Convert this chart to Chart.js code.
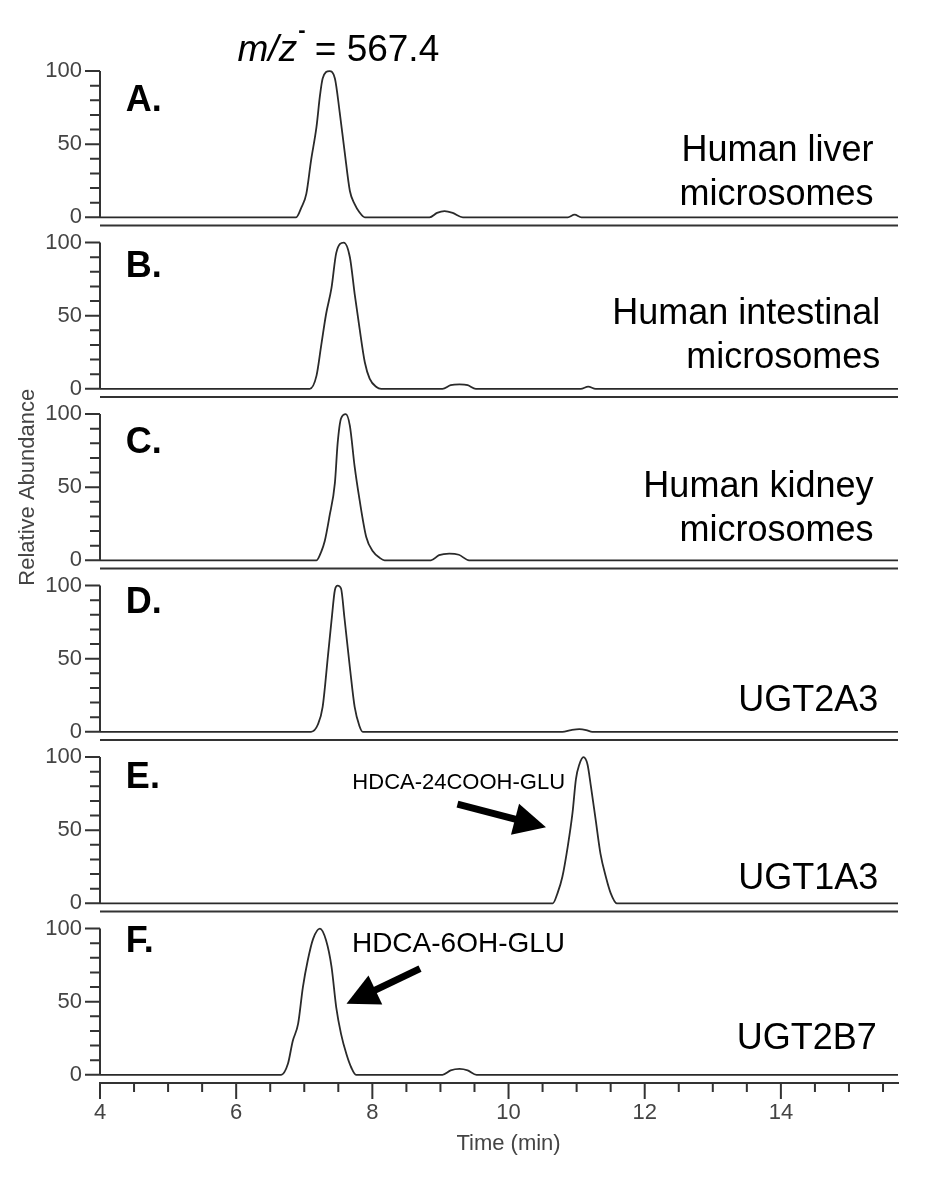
<!DOCTYPE html>
<html>
<head>
<meta charset="utf-8">
<script src="https://cdn.jsdelivr.net/npm/chart.js@4.4.1/dist/chart.umd.min.js"></script>
<style>
html, body { margin: 0; padding: 0; background: #fff; }
#wrap { position: relative; width: 930px; height: 1180px; }
</style>
</head>
<body>
<div id="wrap"><canvas id="chart" width="930" height="1180"></canvas></div>
<script>
const FONT = '"Liberation Sans", Arial, Helvetica, sans-serif'

// panels, top to bottom
const panelIds = ['A', 'B', 'C', 'D', 'E', 'F']
const panelLetters = ['A.', 'B.', 'C.', 'D.', 'E.', 'F.']
const panelNames = [
       ['Human liver', 'microsomes'],
       ['Human intestinal', 'microsomes'],
       ['Human kidney', 'microsomes'],
       ['UGT2A3'],
       ['UGT1A3'],
       ['UGT2B7']
]

// retention time (min) and relative abundance (%)
const timeA = [4, 6.88, 6.96, 7.03, 7.10, 7.18, 7.23, 7.27, 7.37, 7.45, 7.52, 7.59, 7.67, 7.74, 7.81, 7.89, 8.84, 8.95, 9.06, 9.18, 9.33, 10.87, 10.97, 11.07, 15.72]
const valA  = [0, 0, 7, 16, 39, 62, 83, 95, 100, 95, 72, 46, 18, 9, 3.5, 0, 0, 3, 4.2, 3, 0, 0, 1.8, 0, 0]

const timeB = [4, 7.08, 7.18, 7.25, 7.32, 7.40, 7.47, 7.58, 7.67, 7.74, 7.81, 7.89, 7.96, 8.06, 8.13, 9.03, 9.15, 9.28, 9.40, 9.52, 11.06, 11.17, 11.28, 15.72]
const valB  = [0, 0, 9, 30, 51, 69, 93, 100, 90, 65, 42, 18, 7, 1.2, 0, 0, 2.5, 3, 2.5, 0, 0, 1.5, 0, 0]

const timeC = [4, 7.18, 7.25, 7.30, 7.37, 7.45, 7.49, 7.54, 7.61, 7.67, 7.74, 7.81, 7.91, 8.01, 8.11, 8.18, 8.86, 8.98, 9.13, 9.27, 9.42, 15.72]
const valC  = [0, 0, 6, 13, 30, 53, 80, 97, 100, 92, 64, 42, 16, 6, 1.6, 0, 0, 3.5, 4.6, 3.8, 0, 0]

const timeD = [4, 7.10, 7.20, 7.27, 7.35, 7.40, 7.45, 7.49, 7.54, 7.59, 7.67, 7.74, 7.81, 7.86, 10.79, 10.92, 11.04, 11.14, 11.23, 15.72]
const valD  = [0, 0, 5, 17, 53, 76, 97, 100, 98, 78, 44, 17, 4, 0, 0, 1.2, 1.8, 1.2, 0, 0]

const timeE = [4, 10.65, 10.72, 10.79, 10.87, 10.94, 10.99, 11.04, 11.10, 11.16, 11.21, 11.28, 11.35, 11.43, 11.50, 11.59, 15.72]
const valE  = [0, 0, 7, 18, 39, 62, 85, 95, 100, 95, 80, 57, 34, 18, 7, 0, 0]

const timeF = [4, 6.66, 6.76, 6.83, 6.91, 6.98, 7.05, 7.13, 7.23, 7.32, 7.40, 7.47, 7.54, 7.62, 7.69, 7.76, 9.03, 9.15, 9.28, 9.40, 9.53, 15.72]
const valF  = [0, 0, 7.5, 23, 35, 60, 78, 93, 100, 92, 74, 46, 28, 14, 5, 0, 0, 3, 4, 3, 0, 0]

const xTickValues = [4, 4.5, 5, 5.5, 6, 6.5, 7, 7.5, 8, 8.5, 9, 9.5, 10, 10.5, 11, 11.5, 12, 12.5, 13, 13.5, 14, 14.5, 15, 15.5]
const xLabels = [4, 6, 8, 10, 12, 14]
const yTickValues = [0, 10, 20, 30, 40, 50, 60, 70, 80, 90, 100]
const yLabels = [0, 50, 100]

const series = [[timeA, valA], [timeB, valB], [timeC, valC], [timeD, valD], [timeE, valE], [timeF, valF]]

// text placement in data units (time, abundance) of each panel
const letterPos = [72.7, 76.5, 73.4, 81.3, 78.9, 84]
const namePos = [
       { right: 15.36, base: 8.2 },
       { right: 15.46, base: 14 },
       { right: 15.36, base: 13 },
       { right: 15.43, base: 14.5 },
       { right: 15.43, base: 9.7 },
       { right: 15.41, base: 17.8 }
]
const notes = [
       { panel: 'E', text: 'HDCA-24COOH-GLU', size: 22, align: 'right', at: [10.83, 78], from: [9.25, 67.8], to: [10.55, 52] },
       { panel: 'F', text: 'HDCA-6OH-GLU', size: 28, align: 'left', at: [7.70, 84], from: [8.70, 72.6], to: [7.62, 48.6] }
]

function drawArrow(ctx, x1, y1, x2, y2) {
       const ang = Math.atan2(y2 - y1, x2 - x1)
       const hl = 32, hw = 16
       const bx = x2 - hl * Math.cos(ang), by = y2 - hl * Math.sin(ang)
       ctx.lineWidth = 7
       ctx.beginPath()
       ctx.moveTo(x1, y1)
       ctx.lineTo(bx + 2 * Math.cos(ang), by + 2 * Math.sin(ang))
       ctx.stroke()
       ctx.beginPath()
       ctx.moveTo(x2, y2)
       ctx.lineTo(bx + hw * Math.sin(ang), by - hw * Math.cos(ang))
       ctx.lineTo(bx - hw * Math.sin(ang), by + hw * Math.cos(ang))
       ctx.closePath()
       ctx.fill()
}

const decor = {
       id: 'decor',
       afterDraw(chart) {
              const ctx = chart.ctx
              const area = chart.chartArea
              const x = chart.scales.x
              ctx.save()

              // axes, ticks and panel separators
              ctx.strokeStyle = '#333'
              ctx.lineWidth = 2
              ctx.beginPath()
              panelIds.forEach((id, i) => {
                     const y = chart.scales['y' + id]
                     ctx.moveTo(area.left, y.getPixelForValue(0))
                     ctx.lineTo(area.left, y.getPixelForValue(100))
                     yTickValues.forEach(v => {
                            const py = y.getPixelForValue(v)
                            const len = yLabels.includes(v) ? 15 : 10
                            ctx.moveTo(area.left - len, py)
                            ctx.lineTo(area.left, py)
                     })
                     if (i < panelIds.length - 1) {
                            ctx.moveTo(area.left, y.bottom)
                            ctx.lineTo(area.right, y.bottom)
                     }
              })
              xTickValues.forEach(v => {
                     const px = x.getPixelForValue(v)
                     const len = xLabels.includes(v) ? 16 : 9
                     ctx.moveTo(px, area.bottom)
                     ctx.lineTo(px, area.bottom + len)
              })
              ctx.stroke()

              // panel letters and sample names
              ctx.fillStyle = '#000'
              ctx.textBaseline = 'alphabetic'
              panelIds.forEach((id, i) => {
                     const y = chart.scales['y' + id]
                     ctx.font = 'bold 36px ' + FONT
                     ctx.textAlign = 'left'
                     ctx.fillText(panelLetters[i], x.getPixelForValue(4.38), y.getPixelForValue(letterPos[i]))
                     ctx.font = '36px ' + FONT
                     ctx.textAlign = 'right'
                     const lines = panelNames[i]
                     const base = y.getPixelForValue(namePos[i].base)
                     lines.forEach((t, k) => {
                            ctx.fillText(t, x.getPixelForValue(namePos[i].right), base - (lines.length - 1 - k) * 44)
                     })
              })

              // peak annotations
              ctx.strokeStyle = '#000'
              notes.forEach(n => {
                     const y = chart.scales['y' + n.panel]
                     ctx.font = n.size + 'px ' + FONT
                     ctx.textAlign = n.align
                     ctx.fillText(n.text, x.getPixelForValue(n.at[0]), y.getPixelForValue(n.at[1]))
                     drawArrow(ctx,
                            x.getPixelForValue(n.from[0]), y.getPixelForValue(n.from[1]),
                            x.getPixelForValue(n.to[0]), y.getPixelForValue(n.to[1]))
              })

              // m/z title over panel A
              const yA = chart.scales.yA
              let tx = x.getPixelForValue(6.02)
              const ty = yA.getPixelForValue(106.8)
              ctx.textAlign = 'left'
              ctx.font = 'italic 37px ' + FONT
              ctx.fillText('m/z', tx, ty)
              tx += ctx.measureText('m/z').width
              ctx.font = 'bold 22px ' + FONT
              ctx.fillText('-', tx + 1, ty - 24)
              tx += ctx.measureText('-').width
              ctx.font = '37px ' + FONT
              ctx.fillText(' = 567.4', tx, ty)

              // axis titles
              ctx.fillStyle = '#444'
              ctx.font = '22px ' + FONT
              ctx.textAlign = 'center'
              ctx.fillText('Time (min)', x.getPixelForValue(10), area.bottom + 67)
              ctx.translate(28, chart.scales.yC.getPixelForValue(50))
              ctx.rotate(-Math.PI / 2)
              ctx.textBaseline = 'middle'
              ctx.font = '22px ' + FONT
              ctx.fillText('Relative Abundance', 0, 0)

              ctx.restore()
       }
}

const datasets = series.map(([t, v], i) => ({
       label: panelIds[i],
       data: t.map((tm, k) => ({ x: tm, y: v[k] })),
       yAxisID: 'y' + panelIds[i],
       borderColor: '#2a2a2a',
       borderWidth: 1.8,
       pointRadius: 0,
       cubicInterpolationMode: 'monotone',
       fill: false
}))

const scales = {
       x: {
              type: 'linear',
              position: 'bottom',
              min: 4,
              max: 15.72,
              border: { display: true, color: '#333', width: 2 },
              grid: { display: false, drawTicks: false },
              afterBuildTicks: s => { s.ticks = xTickValues.map(v => ({ value: v })) },
              afterFit: s => { s.height = 97 },
              ticks: {
                     autoSkip: false,
                     maxRotation: 0,
                     padding: 17,
                     color: '#444',
                     font: { family: FONT, size: 22 },
                     callback: v => xLabels.includes(v) ? String(v) : ''
              }
       }
}

panelIds.forEach((id, i) => {
       scales['y' + id] = {
              type: 'linear',
              position: 'left',
              stack: 'panels',
              stackWeight: 1,
              weight: panelIds.length - i,
              min: -5.6,
              max: 111.7,
              border: { display: false },
              grid: { display: false, drawTicks: false },
              afterBuildTicks: s => { s.ticks = yTickValues.map(v => ({ value: v })) },
              afterFit: s => { s.width = 100 },
              ticks: {
                     autoSkip: false,
                     padding: 18,
                     color: '#444',
                     font: { family: FONT, size: 22 },
                     callback: v => yLabels.includes(v) ? String(v) : ''
              }
       }
})

new Chart(document.getElementById('chart'), {
       type: 'line',
       data: { datasets },
       options: {
              responsive: false,
              animation: false,
              devicePixelRatio: 1,
              layout: { padding: { top: 54, right: 32, bottom: 0, left: 0 } },
              plugins: { legend: { display: false }, tooltip: { enabled: false } },
              scales
       },
       plugins: [decor]
})
</script>
</body>
</html>
